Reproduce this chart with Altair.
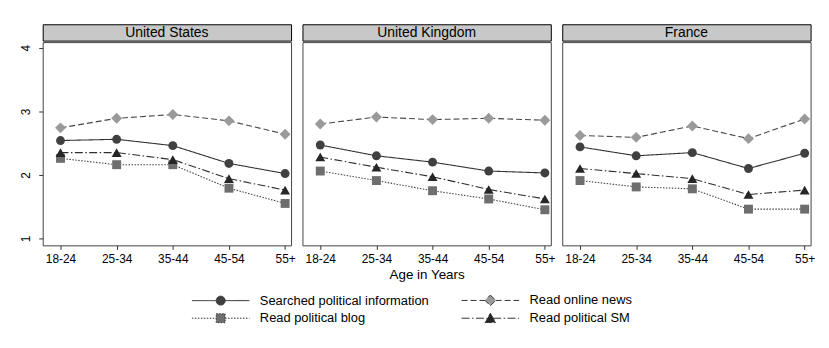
import altair as alt
import pandas as pd

COUNTRIES = ["United States", "United Kingdom", "France"]
AGES = ["18-24", "25-34", "35-44", "45-54", "55+"]
# order = legend order (column-major: col 1 = first two)
SERIES = ["Searched political information", "Read political blog",
          "Read online news", "Read political SM"]

US_SEARCHED = [2.54, 2.56, 2.46, 2.18, 2.02]
US_NEWS = [2.74, 2.89, 2.95, 2.85, 2.64]
US_BLOG = [2.26, 2.16, 2.16, 1.79, 1.55]
US_SM = [2.35, 2.35, 2.24, 1.94, 1.76]

UK_SEARCHED = [2.47, 2.30, 2.20, 2.06, 2.03]
UK_NEWS = [2.80, 2.91, 2.87, 2.89, 2.86]
UK_BLOG = [2.06, 1.91, 1.75, 1.62, 1.45]
UK_SM = [2.28, 2.12, 1.97, 1.77, 1.62]

FR_SEARCHED = [2.44, 2.30, 2.35, 2.10, 2.34]
FR_NEWS = [2.62, 2.59, 2.77, 2.57, 2.88]
FR_BLOG = [1.91, 1.81, 1.78, 1.46, 1.46]
FR_SM = [2.10, 2.02, 1.94, 1.69, 1.76]

VALUES = {
    "United States": [US_SEARCHED, US_BLOG, US_NEWS, US_SM],
    "United Kingdom": [UK_SEARCHED, UK_BLOG, UK_NEWS, UK_SM],
    "France": [FR_SEARCHED, FR_BLOG, FR_NEWS, FR_SM],
}

rows = []
for c in COUNTRIES:
    for s, vals in zip(SERIES, VALUES[c]):
        for i, v in enumerate(vals):
            rows.append({"country": c, "series": s, "age": i, "value": v})
df = pd.DataFrame(rows)

# ---- styles (same order as SERIES) ----
FONT = "Liberation Sans"
MARKER_COLORS = ["#404040", "#6e6e6e", "#9a9a9a", "#262626"]
LINE_COLORS = ["#333333", "#444444", "#484848", "#2e2e2e"]
DASHES = [[1, 0], [1.5, 1.5], [6, 3], [8, 2.5, 1.5, 2.5]]
SHAPES = ["circle", "square", "diamond", "triangle-up"]
SIZES = [81, 81, 121, 100]
LEGEND_PATHS = [
    "M-6.44,0H-1M1,0H6.44M-1,0A1,1,0,1,1,1,0A1,1,0,1,1,-1,0Z",
    "M-6.44,0H-1M1,0H6.44M-1,-1H1V1H-1Z",
    "M-6.44,0H-1.2M1.2,0H6.44M0,-1.2L1.2,0L0,1.2L-1.2,0Z",
    "M-6.44,0H-0.64M0.64,0H6.44M0,-1.1L1.2,0.95L-1.2,0.95Z",
]

W, H, HH = 250.5, 205, 16.5
XDOM = [-0.317, 4.106]
YDOM = [0.89, 4.09]
LABEL_EXPR = "[" + ",".join("'%s'" % a for a in AGES) + "][datum.value]"

LEG = alt.Legend(title=None, orient="none", legendX=173, legendY=272, columns=2,
                 columnPadding=30, rowPadding=3, labelFontSize=13, labelFont=FONT,
                 labelColor="black", symbolSize=81, symbolStrokeWidth=1,
                 symbolStrokeColor="#333333", labelOffset=33, padding=0,
                 labelLimit=400)


def header(country):
    hd = pd.DataFrame({"country": [country]})
    return alt.Chart(hd).mark_text(font=FONT, fontSize=14, color="black",
                                   baseline="middle", align="center").encode(
        text="country:N", x=alt.value(W / 2), y=alt.value(HH / 2 + 0.5)
    ).properties(width=W, height=HH,
                 view=alt.ViewBackground(fill="#c8c8c8", stroke="black", strokeWidth=1))


def plot(country, idx):
    d = df[df.country == country]
    xaxis = alt.Axis(values=[0, 1, 2, 3, 4], labelExpr=LABEL_EXPR, labelFontSize=12,
                     tickSize=4, labelPadding=4, labelFlush=False, domain=False,
                     title="Age in Years" if idx == 1 else None, titleFontSize=13.5,
                     titleFontWeight="normal", titlePadding=3, grid=False)
    if idx == 0:
        yaxis = alt.Axis(values=[1, 2, 3, 4], labelAngle=270, labelFontSize=12,
                         tickSize=4, labelPadding=6, title=None, domain=False, grid=False)
    else:
        yaxis = None
    x = alt.X("age:Q", scale=alt.Scale(domain=XDOM, nice=False, zero=False), axis=xaxis)
    y = alt.Y("value:Q", scale=alt.Scale(domain=YDOM, nice=False, zero=False), axis=yaxis)
    base = alt.Chart(d)
    layers = []
    for s, lc, dash in zip(SERIES, LINE_COLORS, DASHES):
        layers.append(
            base.transform_filter(alt.datum.series == s).mark_line(
                strokeWidth=1.1, color=lc, strokeDash=dash
            ).encode(x=x, y=y)
        )
    for s, shp, sz, col in zip(SERIES, SHAPES, SIZES, MARKER_COLORS):
        layers.append(
            base.transform_filter(alt.datum.series == s).mark_point(
                filled=True, opacity=1, shape=shp, size=sz, color=col
            ).encode(x=x, y=y)
        )
    if idx == 1:
        leg = base.transform_filter("false").mark_point(filled=True, opacity=1).encode(
            color=alt.Color("series:N", scale=alt.Scale(domain=SERIES, range=MARKER_COLORS), legend=LEG),
            shape=alt.Shape("series:N", scale=alt.Scale(domain=SERIES, range=LEGEND_PATHS), legend=LEG),
            strokeDash=alt.StrokeDash("series:N", scale=alt.Scale(domain=SERIES, range=DASHES), legend=LEG),
        )
        layers.append(leg)
    return alt.layer(*layers).properties(
        width=W, height=H,
        view=alt.ViewBackground(fill="white", stroke="#444444", strokeWidth=1))


panels = [alt.vconcat(header(c), plot(c, i), spacing=0)
          for i, c in enumerate(COUNTRIES)]

chart = alt.hconcat(*panels, spacing=5).properties(
    padding={"left": 11, "top": 14, "right": 5, "bottom": 5},
    background="white",
).configure_view(stroke="transparent").configure_axis(
    labelFont=FONT, titleFont=FONT, labelColor="black", titleColor="black",
    tickColor="#333333", tickWidth=1
)

chart.save("out.html", embed_options={"renderer": "svg", "actions": False})
